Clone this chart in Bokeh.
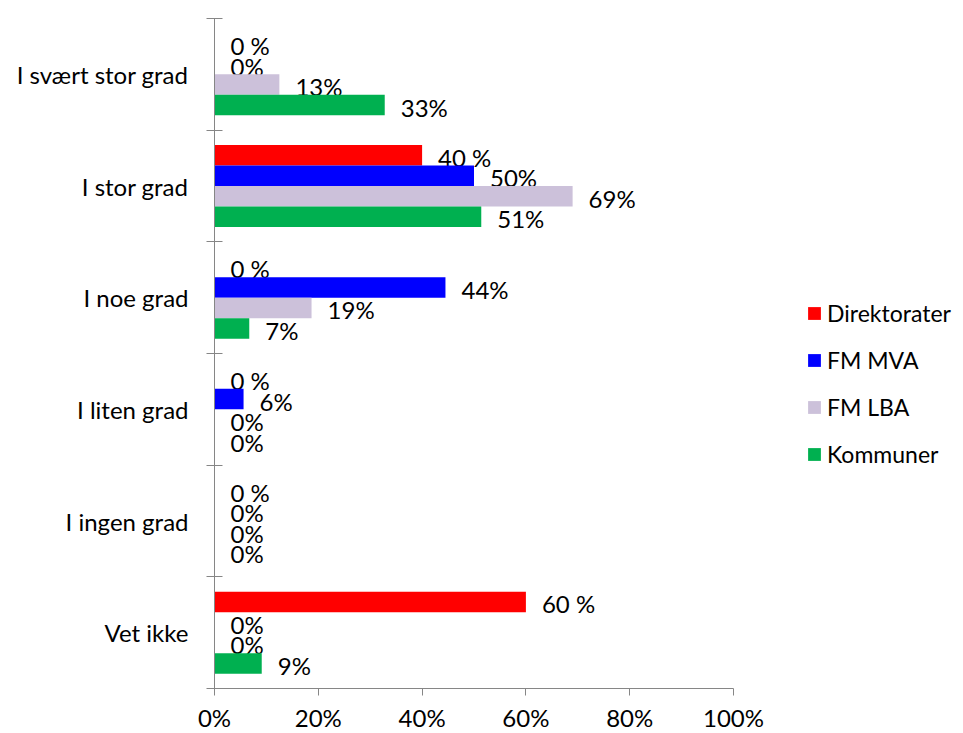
from bokeh.plotting import figure
from bokeh.models import (ColumnDataSource, FixedTicker, Legend, LegendItem,
                          PrintfTickFormatter, Range1d)
from bokeh.core.properties import value
from bokeh.embed import file_html
from bokeh.resources import INLINE

# ---- data ----
categories = ["I svært stor grad", "I stor grad", "I noe grad",
              "I liten grad", "I ingen grad", "Vet ikke"]
series = ["Direktorater", "FM MVA", "FM LBA", "Kommuner"]
direktorater = [0, 40, 0, 0, 0, 60]
fm_mva = [0, 50, 44.5, 5.6, 0, 0]
fm_lba = [12.5, 69, 18.7, 0, 0, 0]
kommuner = [32.8, 51.4, 6.7, 0, 0, 9.1]
direktorater_labels = ["0 %", "40 %", "0 %", "0 %", "0 %", "60 %"]
fm_mva_labels = ["0%", "50%", "44%", "6%", "0%", "0%"]
fm_lba_labels = ["13%", "69%", "19%", "0%", "0%", "0%"]
kommuner_labels = ["33%", "51%", "7%", "0%", "0%", "9%"]
x_ticks = [0, 20, 40, 60, 80, 100]

colors = ["#FF0000", "#0000FF", "#CCC1DA", "#00B050"]
values_list = [direktorater, fm_mva, fm_lba, kommuner]
labels_list = [direktorater_labels, fm_mva_labels, fm_lba_labels, kommuner_labels]

FONT = "Lato"
FS = "24px"
n = len(categories)
bar_h = 0.1835
offsets = [1.5 * bar_h, 0.5 * bar_h, -0.5 * bar_h, -1.5 * bar_h]

AXIS_PX = 519      # pixel length of the 0..100 % axis
FRAME_W = 746      # frame extends to the right to hold the legend
x_end = 100 * FRAME_W / AXIS_PX

p = figure(output_backend="svg", toolbar_location=None,
           frame_width=FRAME_W, frame_height=670,
           min_border_left=214, min_border_right=0,
           min_border_top=18, min_border_bottom=40,
           x_range=Range1d(0, x_end), y_range=Range1d(0, n))
p.outline_line_color = None
p.xgrid.visible = False
p.ygrid.visible = False

centers = [n - 0.5 - i for i in range(n)]
items = []
for s, vals, labs, c, off in zip(series, values_list, labels_list, colors, offsets):
    src = ColumnDataSource(dict(y=[cy + off for cy in centers], right=vals, lab=labs))
    r = p.hbar(y="y", left=0, right="right", height=bar_h, source=src,
               fill_color=c, line_color=None)
    p.text(x="right", y="y", text="lab", source=src, x_offset=16, y_offset=2,
           text_align="left", text_baseline="middle",
           text_font=value(FONT), text_font_size=FS, text_color="#000000")
    items.append(LegendItem(label=s, renderers=[r]))

AX = "#868686"
# x axis
p.xaxis.bounds = (0, 100)
p.xaxis.ticker = FixedTicker(ticks=x_ticks)
p.xaxis.formatter = PrintfTickFormatter(format="%d%%")
p.xaxis.axis_line_color = AX
p.xaxis.major_tick_line_color = AX
p.xaxis.major_tick_in = 0
p.xaxis.major_tick_out = 7
p.xaxis.minor_tick_line_color = None
p.xaxis.major_label_standoff = 7
p.xaxis.major_label_text_font = FONT
p.xaxis.major_label_text_font_size = FS
p.xaxis.major_label_text_color = "#000000"

# y axis: labels at category centres, tick marks at boundaries
p.yaxis.ticker = FixedTicker(ticks=centers, minor_ticks=list(range(n + 1)))
p.yaxis.major_label_overrides = {cy: cat for cy, cat in zip(centers, categories)}
p.yaxis.axis_line_color = AX
p.yaxis.major_tick_line_color = None
p.yaxis.major_tick_in = 0
p.yaxis.major_tick_out = 0
p.yaxis.minor_tick_line_color = AX
p.yaxis.minor_tick_in = 8
p.yaxis.minor_tick_out = 8
p.yaxis.major_label_standoff = 18
p.yaxis.major_label_text_font = FONT
p.yaxis.major_label_text_font_size = FS
p.yaxis.major_label_text_color = "#000000"

legend = Legend(items=items, location=(592, 220),
                glyph_width=16, glyph_height=16, label_height=16,
                label_standoff=5, spacing=19, padding=0, margin=0,
                border_line_color=None, background_fill_alpha=0,
                label_text_font=FONT, label_text_font_size="23px",
                label_text_color="#000000")
p.add_layout(legend, "center")

open("out.html", "w").write(file_html(p, INLINE))
